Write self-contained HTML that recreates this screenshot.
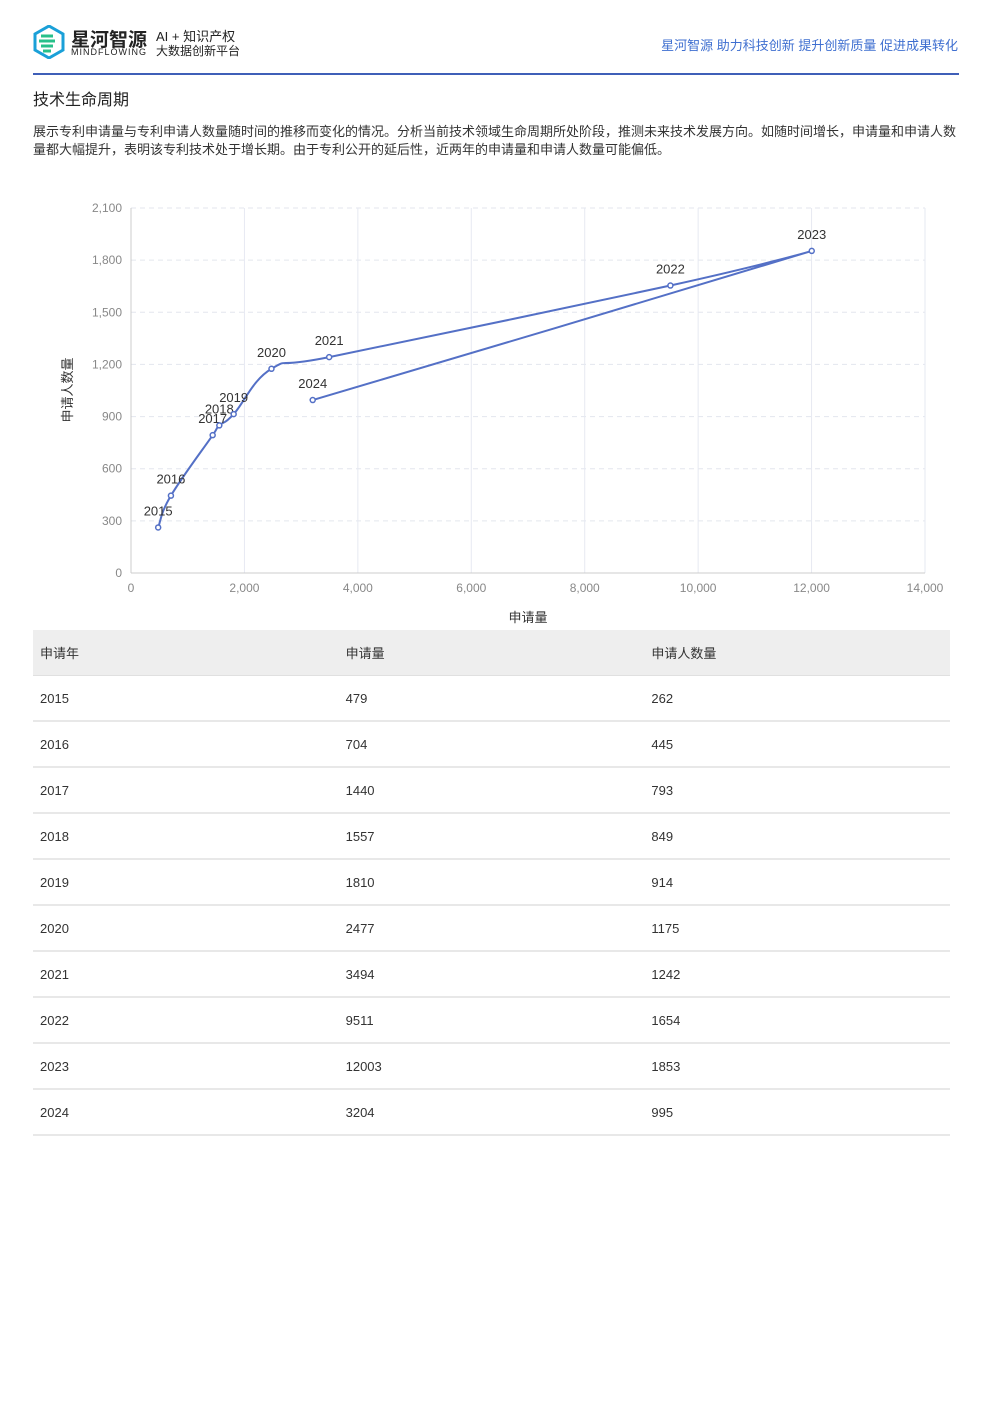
<!DOCTYPE html>
<html><head><meta charset="utf-8"><style>
body{margin:0;width:992px;height:1403px;background:#fff;font-family:"Liberation Sans","Noto Sans CJK SC",sans-serif;color:#333;position:relative;overflow:hidden}
.abs{position:absolute}
table{border-collapse:collapse;position:absolute;left:33px;top:630px;width:917px;font-size:13px}
td,th{height:44px;border-bottom:2px solid #e8e8e8;text-align:left;padding:0 0 0 7px;font-weight:normal;width:305px}
th{background:#eee;border-bottom:1px solid #e0e0e0;height:45px}
</style></head><body>
<div class="abs" style="left:33px;top:25px;width:230px;height:36px">
<svg width="32" height="34" class="abs" style="left:0;top:0"><polygon points="16,1 30,9 30,25 16,33 2,25 2,9" fill="none" stroke="#1aa0d8" stroke-width="3"/><path d="M8,11h12M6,16h16M8,21h12M10,26h8" stroke="#27c08a" stroke-width="3"/></svg>
<div class="abs" style="left:38px;top:0;font-size:19px;font-weight:bold;color:#222">星河智源</div>
<div class="abs" style="left:38px;top:22px;font-size:9px;letter-spacing:1px;color:#222">MINDFLOWING</div>
<div class="abs" style="left:123px;top:1px;font-size:13px;color:#222">AI + 知识产权</div>
<div class="abs" style="left:123px;top:17px;font-size:12px;color:#222">大数据创新平台</div>
</div>
<div class="abs" style="right:34px;top:35px;font-size:13px;color:#3f6fd0">星河智源 助力科技创新 提升创新质量 促进成果转化</div>
<div class="abs" style="left:33px;top:73px;width:926px;height:2px;background:#3f5fb8"></div>
<div class="abs" style="left:33px;top:86px;font-size:16px;color:#222">技术生命周期</div>
<div class="abs" style="left:33px;top:123px;width:926px;font-size:13px;line-height:18px;color:#333">展示专利申请量与专利申请人数量随时间的推移而变化的情况。分析当前技术领域生命周期所处阶段，推测未来技术发展方向。如随时间增长，申请量和申请人数量都大幅提升，表明该专利技术处于增长期。由于专利公开的延后性，近两年的申请量和申请人数量可能偏低。</div>
<svg id="chart" class="abs" style="left:0;top:190px" width="992" height="440"></svg>
<table><thead><tr><th>申请年</th><th>申请量</th><th>申请人数量</th></tr></thead><tbody id="tb"></tbody></table>
<script>
const years=[2015,2016,2017,2018,2019,2020,2021,2022,2023,2024];
const apps=[479,704,1440,1557,1810,2477,3494,9511,12003,3204];
const applicants=[262,445,793,849,914,1175,1242,1654,1853,995];
const xTicks=[0,2000,4000,6000,8000,10000,12000,14000];
const yTicks=[0,300,600,900,1200,1500,1800,2100];
const OY=190;
const X=v=>131+v/14000*794, Y=v=>573-OY-v/2100*365;
const svg=document.getElementById('chart');const NS='http://www.w3.org/2000/svg';
function mk(t,a,txt){const e=document.createElementNS(NS,t);for(const k in a)e.setAttribute(k,a[k]);if(txt!=null)e.textContent=txt;svg.appendChild(e);return e;}
yTicks.forEach(v=>{if(v>0){const g=mk('line',{x1:131,x2:925,y1:Y(v),y2:Y(v),stroke:'#e3e6ee','stroke-dasharray':'5,4'});

}
const t=mk('text',{x:122,y:Y(v)+4,'text-anchor':'end','font-size':12,fill:'#888'},v.toLocaleString('en-US'));

});
xTicks.forEach(v=>{if(v>0){const g=mk('line',{x1:X(v),x2:X(v),y1:Y(2100),y2:Y(0),stroke:'#e6e9f2'});

}
const t=mk('text',{x:X(v),y:Y(0)+19,'text-anchor':'middle','font-size':12,fill:'#888'},v.toLocaleString('en-US'));

});
const ax=mk('line',{x1:131,x2:925,y1:Y(0),y2:Y(0),stroke:'#ccc'});


const ay=mk('line',{x1:131,x2:131,y1:Y(2100),y2:Y(0),stroke:'#ccc'});


const xt=mk('text',{x:528,y:432,'text-anchor':'middle','font-size':13,fill:'#333'},'申请量');


const yt=mk('text',{x:72,y:200,'text-anchor':'middle','font-size':13,fill:'#333',transform:'rotate(-90 72 200)'},'申请人数量');


const P=apps.map((a,i)=>[X(a),Y(applicants[i])]);
const cl=(v,a,b)=>Math.max(Math.min(a,b),Math.min(Math.max(a,b),v));
let d='M'+P[0];const s=0.2;
for(let i=0;i<P.length-1;i++){const p0=P[i-1]||P[i],p1=P[i],p2=P[i+1],p3=P[i+2]||P[i+1];
const c1=[cl(p1[0]+(p2[0]-p0[0])*s,p1[0],p2[0]),cl(p1[1]+(p2[1]-p0[1])*s,p1[1],p2[1])];
const c2=[cl(p2[0]-(p3[0]-p1[0])*s,p1[0],p2[0]),cl(p2[1]-(p3[1]-p1[1])*s,p1[1],p2[1])];
d+=' C'+c1+' '+c2+' '+p2;}
const ln=mk('path',{d:d,fill:'none',stroke:'#5470c6','stroke-width':2});


P.forEach((p,i)=>{const c=mk('circle',{cx:p[0],cy:p[1],r:2.5,fill:'#fff',stroke:'#5470c6','stroke-width':1.5});


const t=mk('text',{x:p[0],y:p[1]-12,'text-anchor':'middle','font-size':13,fill:'#333'},years[i]);

});
const tb=document.getElementById('tb');
years.forEach((y,i)=>{const tr=document.createElement('tr');


tr.innerHTML='<td>'+y+'</td><td>'+apps[i]+'</td><td>'+applicants[i]+'</td>';tb.appendChild(tr);});
</script>
</body></html>
